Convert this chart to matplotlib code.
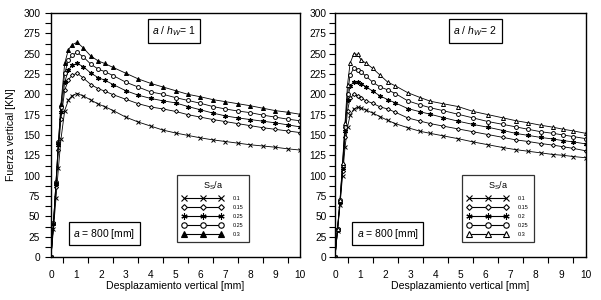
import matplotlib
matplotlib.use('Agg')
import matplotlib.pyplot as plt
from matplotlib.lines import Line2D
from matplotlib.ticker import MultipleLocator

plt.rcParams['font.family'] = ['Liberation Sans', 'DejaVu Sans']
plt.rcParams['mathtext.fontset'] = 'custom'
plt.rcParams['mathtext.rm'] = 'Liberation Sans'
plt.rcParams['mathtext.it'] = 'Liberation Sans:italic'

# ---------------- data ----------------
x_left = [0, 0.1, 0.2, 0.3, 0.4, 0.55, 0.7, 0.85, 1.05, 1.3, 1.6, 1.9, 2.15, 2.5,
          3.0, 3.5, 4.0, 4.5, 5.0, 5.5, 6.0, 6.5, 7.0, 7.5, 8.0, 8.5, 9.0, 9.5, 10.0]
left_s01 = [0, 35, 72, 110, 145, 180, 193, 198.5, 201, 198, 193, 188, 185, 180,
            172, 166, 161, 156, 152.5, 149.5, 146.5, 144, 142, 140, 138, 136.5, 135, 133, 131.5]
left_s015 = [0, 40, 86, 132, 170, 205, 218, 223.5, 226, 220, 212, 207, 204, 199.5,
             194, 188.5, 184.5, 182, 179, 175, 172, 169, 166.5, 164, 161.5, 159, 157, 155, 153]
left_s025a = [0, 42, 90, 138, 178, 215, 230, 235.5, 238, 234, 226, 220.5, 217.5, 212,
              204.5, 199, 195, 192, 189.5, 185, 181, 177, 173.5, 171, 169, 167, 165, 162.5, 160]
left_s025b = [0, 42, 92, 142, 185, 226, 242, 248, 251.5, 246, 237, 231, 228, 223,
              215, 209, 203, 200, 196, 192.5, 189, 185, 182, 179.5, 177.5, 174.5, 172, 169.5, 167.5]
left_s03 = [0, 42, 92, 142, 188, 238, 255, 261, 264, 257, 247, 241, 238, 233,
            226, 219, 213.5, 209, 204.5, 200, 197, 193.5, 191, 188.5, 186, 183, 180, 178, 175.5]

x_right = [0, 0.1, 0.2, 0.3, 0.4, 0.5, 0.6, 0.75, 0.9, 1.05, 1.25, 1.5, 1.8, 2.1, 2.4,
           2.9, 3.4, 3.8, 4.3, 4.9, 5.5, 6.1, 6.7, 7.2, 7.7, 8.2, 8.7, 9.1, 9.5, 10.0]
right_s01 = [0, 32, 64, 100, 135, 160, 174, 182, 184, 183, 180.5, 177, 172.5, 168, 164,
             159, 154.5, 152, 149, 145.5, 141.5, 138, 134.5, 132, 130, 128, 126, 125, 123.5, 122]
right_s015 = [0, 33, 66, 106, 148, 180, 195, 200, 198, 195, 192, 189, 184.5, 182, 178,
              171, 167, 164, 161, 157.5, 154, 150.5, 147, 144, 142, 139.5, 137.5, 135.5, 133.5, 130.5]
right_s02 = [0, 34, 68, 110, 155, 193, 210, 215.5, 215, 213, 209, 204, 198, 193.5, 189.5,
             182.5, 178.5, 175.5, 171.5, 167, 163, 159.5, 155.5, 152, 149.5, 147, 145, 143, 141.5, 139]
right_s025 = [0, 35, 70, 113, 160, 200, 224, 232, 230.5, 227, 222, 215, 209, 205.5, 201,
              192, 187, 183.5, 180, 175.5, 171, 166.5, 163, 160, 157, 154, 152, 150, 148, 145.5]
right_s03 = [0, 35, 70, 115, 165, 212, 238, 250, 249, 242, 238, 232, 223.5, 215, 210.5,
             202, 196, 191.5, 188.5, 185, 179, 175, 171, 167.6, 165, 162, 159.5, 157, 155, 152]

left_labels = ['0.1', '0.15', '0.25', '0.25', '0.3']
right_labels = ['0.1', '0.15', '0.2', '0.25', '0.3']
x_ticks = list(range(0, 11))
y_ticks = list(range(0, 301, 25))

# ---------------- styles ----------------
def styles(last_filled):
    return [
        dict(marker='x', mfc='none', ms=3.0, mew=0.7),
        dict(marker='D', mfc='white', ms=2.1, mew=0.7),
        dict(marker=(6, 2, 0), mfc='black', ms=3.2, mew=0.9),
        dict(marker='o', mfc='white', ms=2.8, mew=0.7),
        dict(marker='^', mfc='black' if last_filled else 'white', ms=2.9, mew=0.7),
    ]

fig = plt.figure(figsize=(6.01, 3.0), dpi=100)
axL = fig.add_axes([51/601, 43/300, 249/601, 244/300])
axR = fig.add_axes([335/601, 43/300, 251/601, 244/300])

panels = [
    (axL, x_left, [left_s01, left_s015, left_s025a, left_s025b, left_s03], left_labels, True,
     r'$a$ / $h_W$= 1', 0.494, 0.214, 3.8),
    (axR, x_right, [right_s01, right_s015, right_s02, right_s025, right_s03], right_labels, False,
     r'$a$ / $h_W$= 2', 0.558, 0.210, 2.2),
]

for ax, xs, series, labels, filled, title, tx, bx, ypad in panels:
    sty = styles(filled)
    handles = []
    for ys, st in zip(series, sty):
        ax.plot(xs, ys, color='black', lw=0.6, mec='black', **st)
        hst = dict(st)
        hst['ms'] = st['ms'] * 1.4
        hst['mew'] = 0.8
        handles.append(Line2D([], [], color='black', lw=0.8, mec='black', **hst))
    ax.set_xlim(0, 10)
    ax.set_ylim(0, 300)
    ax.set_xticks(x_ticks)
    ax.set_yticks(y_ticks)
    ax.xaxis.set_minor_locator(MultipleLocator(0.5))
    ax.yaxis.set_minor_locator(MultipleLocator(12.5))
    ax.tick_params(axis='x', which='major', length=0, pad=9, labelsize=7.3)
    ax.tick_params(axis='x', which='minor', length=4, width=0.8, direction='out')
    ax.tick_params(axis='y', which='both', length=4, width=0.8, direction='out')
    ax.tick_params(axis='y', which='major', pad=ypad, labelsize=7.3)
    for sp in ax.spines.values():
        sp.set_linewidth(1.0)
    ax.set_xlabel('Desplazamiento vertical [mm]', fontsize=7.6, labelpad=1)

    ax.text(tx, 0.926, title, transform=ax.transAxes, ha='center', va='center', fontsize=7.5,
            bbox=dict(boxstyle='square,pad=0.45', fc='white', ec='black', lw=0.9))
    ax.text(bx, 0.0955, r'$a$ = 800 [mm]', transform=ax.transAxes, ha='center', va='center',
            fontsize=7.5, bbox=dict(boxstyle='square,pad=0.45', fc='white', ec='black', lw=0.9))

    leg = ax.legend(handles, labels, loc='upper left', bbox_to_anchor=(0.507, 0.336),
                    borderaxespad=0, frameon=True, fancybox=False, edgecolor='black',
                    fontsize=4, title=r'S$_\mathregular{S}$/a', title_fontsize=6.5,
                    numpoints=3, handlelength=7.4, handletextpad=1.8, borderpad=0.85,
                    labelspacing=0.72)
    leg.get_frame().set_linewidth(0.9)

axL.set_ylabel('Fuerza vertical [KN]', fontsize=7.6, labelpad=5)

fig.savefig('out.png', dpi=100)
